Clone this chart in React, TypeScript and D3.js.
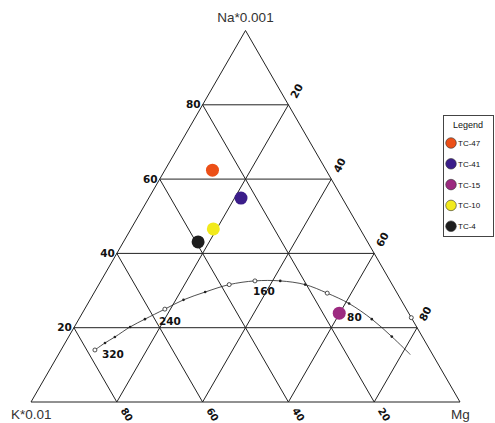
import React from "react";
import * as d3 from "d3";

// Samples plotted in the K–Na–Mg ternary (percent of the three components)
const sampleNames = ["TC-47", "TC-41", "TC-15", "TC-10", "TC-4"];
const sampleK = [26.5, 23.6, 16.2, 34.2, 39.5];
const sampleNa = [62.4, 54.9, 23.9, 46.6, 43.1];
const sampleMg = [11.1, 21.5, 59.9, 19.2, 17.4];
const sampleColors = ["#ec4f17", "#3b1d8a", "#9c2a80", "#f2ea1c", "#1d1d1d"];

// Equilibrium curve (Na, Mg percentages along the path)
const curveNa = [14.0, 15.9, 17.5, 20.2, 22.3, 25.0, 27.5, 29.6, 31.6, 32.6, 32.6, 31.6, 29.3, 26.5, 22.3, 17.6, 12.8];
const curveMg = [7.9, 9.3, 10.8, 13.0, 15.4, 18.7, 21.8, 25.8, 30.4, 35.9, 41.8, 48.1, 54.4, 60.9, 68.3, 75.3, 82.0];
const curveOpen = [1, 0, 0, 0, 0, 1, 0, 0, 1, 1, 0, 0, 1, 0, 0, 0, 0];
const curveLabels = ["320", "240", "160", "80"];
const curveLabelIdx = [0, 4, 9, 13];
const curveLabelDx = [7, 14, -2, -2];
const curveLabelDy = [8, 6, 14, 17];
// Isolated marker on the K = 0 edge
const edgeNa = [22.7];
const edgeMg = [77.3];

const gridTicks = [20, 40, 60, 80];
const axisTitles = ["Na*0.001", "K*0.01", "Mg"];

const W = 495;
const H = 423;

const hScale = d3.scaleLinear().domain([0, 100]).range([31, 460]);
const vScale = d3.scaleLinear().domain([0, 100]).range([402, 30.5]);

function project(na: number, mg: number): [number, number] {
  return [hScale(mg + na / 2), vScale(na)];
}

export default function App() {
  const font = "'Liberation Sans', Arial, sans-serif";
  const tickFont = "'DejaVu Sans', Verdana, sans-serif";
  const line = d3.line<[number, number]>().curve(d3.curveCatmullRom.alpha(0.5));
  const curvePts = curveNa.map((na, i) => project(na, curveMg[i]));

  const gridLines: [number, number][][] = [];
  gridTicks.forEach((t) => {
    // constant Na
    gridLines.push([project(t, 0), project(t, 100 - t)]);
    // constant K (K = t): from left edge (Mg=0) to bottom (Na=0)
    gridLines.push([project(100 - t, 0), project(0, 100 - t)]);
    // constant Mg
    gridLines.push([project(0, t), project(100 - t, t)]);
  });

  const [ax, ay] = project(100, 0);
  const [lx, ly] = project(0, 0);
  const [rx, ry] = project(0, 100);

  return (
    <svg
      width={W}
      height={H}
      style={{ position: "absolute", left: 0, top: 0, background: "#fff" }}
      fontFamily={font}
    >
      <rect width={W} height={H} fill="#fff" />
      <g stroke="#222" strokeWidth={1} fill="none">
        <path d={`M${ax},${ay}L${lx},${ly}L${rx},${ry}Z`} />
        {gridLines.map((l, i) => (
          <line key={i} x1={l[0][0]} y1={l[0][1]} x2={l[1][0]} y2={l[1][1]} />
        ))}
      </g>

      {/* axis titles */}
      <text x={ax} y={22} textAnchor="middle" fontSize={13.5} fill="#333">{axisTitles[0]}</text>
      <text x={11} y={419} fontSize={13.5} fill="#333">{axisTitles[1]}</text>
      <text x={451} y={419} fontSize={13.5} fill="#333">{axisTitles[2]}</text>

      {/* Na ticks on the left edge */}
      {gridTicks.map((t) => {
        const [x, y] = project(t, 0);
        return (
          <text key={"l" + t} x={x - 2} y={y + 3.5} textAnchor="end" fontFamily={tickFont} fontSize={10.5} fontWeight="bold" fill="#111">
            {t}
          </text>
        );
      })}
      {/* Mg ticks on the right edge */}
      {gridTicks.map((t) => {
        const [x, y] = project(t, 100 - t);
        const cx = x + 8;
        const cy = y - 14;
        return (
          <text
            key={"r" + t}
            x={cx}
            y={cy}
            textAnchor="middle"
            dominantBaseline="central"
            fontFamily={tickFont}
            fontSize={10.5}
            fontWeight="bold"
            fill="#111"
            transform={`rotate(-62,${cx},${cy})`}
          >
            {100 - t}
          </text>
        );
      })}
      {/* K ticks along the base */}
      {gridTicks.map((t) => {
        const [x, y] = project(0, t);
        const cx = x + 10;
        const cy = y + 12.5;
        return (
          <text
            key={"b" + t}
            x={cx}
            y={cy}
            textAnchor="middle"
            dominantBaseline="central"
            fontFamily={tickFont}
            fontSize={10}
            fontWeight="bold"
            fill="#111"
            transform={`rotate(58,${cx},${cy})`}
          >
            {100 - t}
          </text>
        );
      })}

      {/* equilibrium curve */}
      <path d={line(curvePts) ?? ""} fill="none" stroke="#222" strokeWidth={0.8} />
      {curvePts.map(([x, y], i) =>
        curveOpen[i] ? (
          <circle key={"c" + i} cx={x} cy={y} r={2} fill="#fff" stroke="#222" strokeWidth={0.8} />
        ) : i === curvePts.length - 1 ? null : (
          <circle key={"c" + i} cx={x} cy={y} r={1.3} fill="#222" />
        )
      )}
      {edgeNa.map((na, i) => {
        const [x, y] = project(na, edgeMg[i]);
        return <circle key={"e" + i} cx={x} cy={y} r={2} fill="#fff" stroke="#222" strokeWidth={0.8} />;
      })}

      {/* samples */}
      {sampleNames.map((n, i) => {
        const [x, y] = project(sampleNa[i], sampleMg[i]);
        return <circle key={n} cx={x} cy={y} r={6.5} fill={sampleColors[i]} />;
      })}

      {curveLabels.map((lab, i) => {
        const [x, y] = curvePts[curveLabelIdx[i]];
        return (
          <text key={lab + i} x={x + curveLabelDx[i]} y={y + curveLabelDy[i]} fontFamily={tickFont} fontSize={10.5} fontWeight="bold" fill="#111">
            {lab}
          </text>
        );
      })}

      {/* legend */}
      <g>
        <rect x={443.5} y={115.5} width={50} height={121} fill="#fff" stroke="#444" strokeWidth={1} />
        <text x={468} y={128} textAnchor="middle" fontSize={9} fill="#111">Legend</text>
        {sampleNames.map((n, i) => {
          const cy = 143 + i * 20.8;
          return (
            <g key={"lg" + n}>
              <circle cx={451} cy={cy} r={5.3} fill={sampleColors[i]} stroke="#333" strokeWidth={0.6} />
              <text x={458} y={cy + 3} fontSize={8} fill="#111">{n}</text>
            </g>
          );
        })}
      </g>
    </svg>
  );
}
